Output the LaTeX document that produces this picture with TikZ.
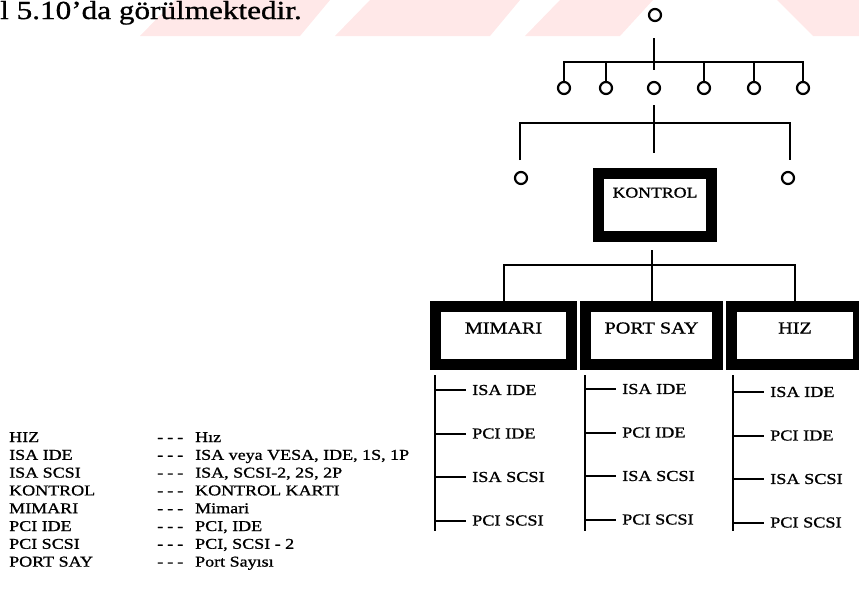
\documentclass[tikz,border=0pt]{standalone}
\usepackage{fontspec}
\setmainfont[FakeStretch=1.2,FakeBold=1]{Liberation Serif}
\usetikzlibrary{positioning}
\begin{document}
\begin{tikzpicture}[x=1pt, y=-1pt, line join=miter, font=\fontsize{15}{17}\selectfont]
	\tikzset{dot/.style={draw, circle, line width=2.2pt, minimum size=12pt, inner sep=0pt},
		kutu/.style={draw, line width=11pt, inner sep=0pt, font=\fontsize{16.8}{19}\selectfont, text height=12pt, text depth=16pt},
		bag/.style={line width=2pt},
		secenek/.style={anchor=west, inner sep=0pt, font=\fontsize{15.2}{17}\selectfont}}
	\useasboundingbox (0,0) rectangle (859,592);
	% filigran
	\fill[red!9] (175,0) -- (330,0) -- (300,36) -- (140,36) -- cycle
		(370,0) -- (520,0) -- (490,36) -- (335,36) -- cycle
		(560,0) -- (653,0) -- (620,36) -- (525,36) -- cycle
		(777,0) -- (859,0) -- (859,36) -- (813,36) -- cycle;
	\node[anchor=base west, inner sep=0pt, font=\fontsize{26}{29}\selectfont] (baslik) at (0,19) {l 5.10’da görülmektedir.};
	% agac
	\node[dot] (kok) at (655,15) {};
	\foreach \p/\x in {c1/564,c2/606,c3/654,c4/704,c5/754,c6/803}
		\node[dot] (\p) at (\x,88) {};
	\node[dot] (sol) at (521,178) {};
	\node[dot] (sag) at (788,178) {};
	\node[kutu, minimum width=113pt, minimum height=63pt, font=\fontsize{14.8}{17}\selectfont, text height=11pt, text depth=26pt] (kon) at (655,205) {KONTROL};
	\node[kutu, minimum width=136pt, minimum height=58pt] (mim) at (503.5,335.5) {MIMARI};
	\node[kutu, minimum width=132pt, minimum height=58pt] (port) at (651.5,335.5) {PORT SAY};
	\node[kutu, minimum width=127pt, minimum height=58pt] (hiz) at (795,335.5) {HIZ};
	\path (654,38) coordinate (u1) (654,70) coordinate (u2) (654,62) coordinate (b1)
		(654,105) coordinate (v1) (654,153) coordinate (v2) (654,123) coordinate (b2)
		(520,160) coordinate (s1) (790,160) coordinate (s2)
		(651.5,250) coordinate (w1) (651.5,265) coordinate (b3);
	\draw[bag] (u1) -- (u2);
	\draw[bag] (c1.north) |- (b1) -| (c6.north);
	\foreach \p in {c2,c4,c5}
		\draw[bag] (\p.north) -- (\p.north |- b1);
	\draw[bag] (v1) -- (v2);
	\draw[bag] (s1) |- (b2) -| (s2);
	\draw[bag] (w1) -- (port.north);
	\draw[bag] (mim.north) |- (b3) -| (hiz.north);
	%\draw[red] (kon.south) -- (w1);
	% secenekler
	\foreach \k/\x/\d in {mim/435/0,port/585/-1,hiz/733/2}{
		\path (\x,375) coordinate (\k-ust) (\x,531) coordinate (\k-alt);
		\draw[bag] (\k-ust) -- (\k-alt);
		\foreach \t [count=\i] in {ISA IDE,PCI IDE,ISA SCSI,PCI SCSI}{
			\node[secenek] (\k-\i) at (\x+37,390+43.5*\i-43.5+\d) {\t};
			\draw[bag] (\k-\i.west -| \k-ust) -- ([xshift=-6pt]\k-\i.west);
		}
	}
	% aciklamalar
	\foreach \a/\b [count=\i] in {HIZ/Hız,ISA IDE/{ISA veya VESA, IDE, 1S, 1P},%
		ISA SCSI/{ISA, SCSI-2, 2S, 2P},KONTROL/KONTROL KARTI,MIMARI/Mimari,%
		PCI IDE/{PCI, IDE},PCI SCSI/{PCI, SCSI - 2},PORT SAY/Port Sayısı}{
		\node[anchor=base west, inner sep=0pt] (kisa-\i) at (9,442+17.8*\i-17.8) {\a};
		\node[anchor=base west, inner sep=0pt] (uzun-\i) at (157,442+17.8*\i-17.8) {-\kern4pt-\kern4pt-\kern12pt\b};
	}
\end{tikzpicture}
\end{document}
